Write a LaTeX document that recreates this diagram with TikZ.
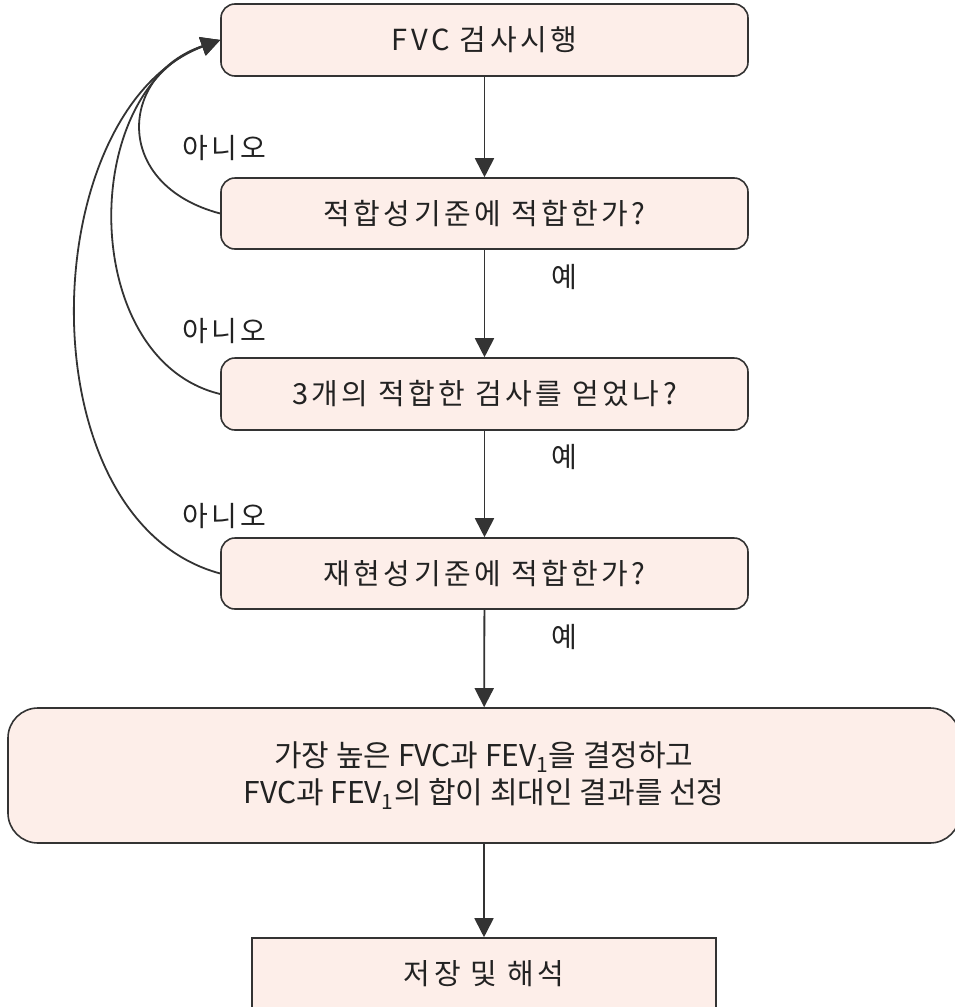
\documentclass[tikz,border=0pt]{standalone}
\usepackage{fontspec}
\setmainfont{Noto Sans CJK KR}
\newfontfamily\spaced[LetterSpace=12]{Noto Sans CJK KR}
\usetikzlibrary{arrows.meta}
\definecolor{boxfill}{HTML}{FDEEE9}
\definecolor{edge}{HTML}{333333}
\definecolor{txt}{HTML}{222222}
\begin{document}
\begin{tikzpicture}[x=1pt,y=-1pt,
  box/.style={draw=edge, line width=1.6pt, fill=boxfill, rounded corners=14pt,
    text=txt, font=\spaced\fontsize{29}{32}\selectfont, inner sep=0pt},
  arr/.style={draw=edge, line width=1.8pt, -{Triangle[length=19pt,width=19pt]}},
  lbl/.style={text=txt, font=\spaced\fontsize{28}{30}\selectfont, inner sep=0pt}]
\useasboundingbox (0,0) rectangle (954,1007);
\node[box, minimum width=527pt, minimum height=72pt] (b1) at (484.5,40) {FVC 검사시행};
\node[box, minimum width=527pt, minimum height=71pt] (b2) at (484.5,213.5) {적합성기준에 적합한가?};
\node[box, minimum width=527pt, minimum height=72pt] (b3) at (484.5,394) {3개의 적합한 검사를 얻었나?};
\node[box, minimum width=527pt, minimum height=71pt] (b4) at (484.5,573.5) {재현성기준에 적합한가?};
\node[box, rounded corners=30pt, minimum width=952pt, minimum height=135pt, align=center,
  font=\fontsize{30}{37}\selectfont] (b5) at (484,775.5)
  {가장 높은 FVC과 FEV\textsubscript{1}을 결정하고\\FVC과 FEV\textsubscript{1}의 합이 최대인 결과를 선정};
\node[box, rounded corners=0pt, minimum width=464pt, minimum height=90pt] (b6) at (484,983) {};
\node[lbl, font=\spaced\fontsize{29}{30}\selectfont] (b6t) at (484,974) {저장 및 해석};
\draw[arr] (b1) -- (b2);
\draw[arr] (b2) -- (b3);
\draw[arr] (b3) -- (b4);
\draw[arr] (b4) -- (b5);
\draw[arr] (b5) -- (b6);
\node[lbl] (y1) at (564,277) {예};
\node[lbl] (y2) at (564,457) {예};
\node[lbl] (y3) at (564,637) {예};
\node[lbl] (n1) at (224,148) {아니오};
\node[lbl] (n2) at (224,331) {아니오};
\node[lbl] (n3) at (224,516) {아니오};
\draw[arr] (b2.west) .. controls (112,185) and (118,75) .. (b1.west);
\draw[arr] (b3.west) .. controls (78,360) and (78,90) .. (b1.west);
\draw[arr] (b4.west) .. controls (22,520) and (34,110) .. (b1.west);
\end{tikzpicture}
\end{document}
